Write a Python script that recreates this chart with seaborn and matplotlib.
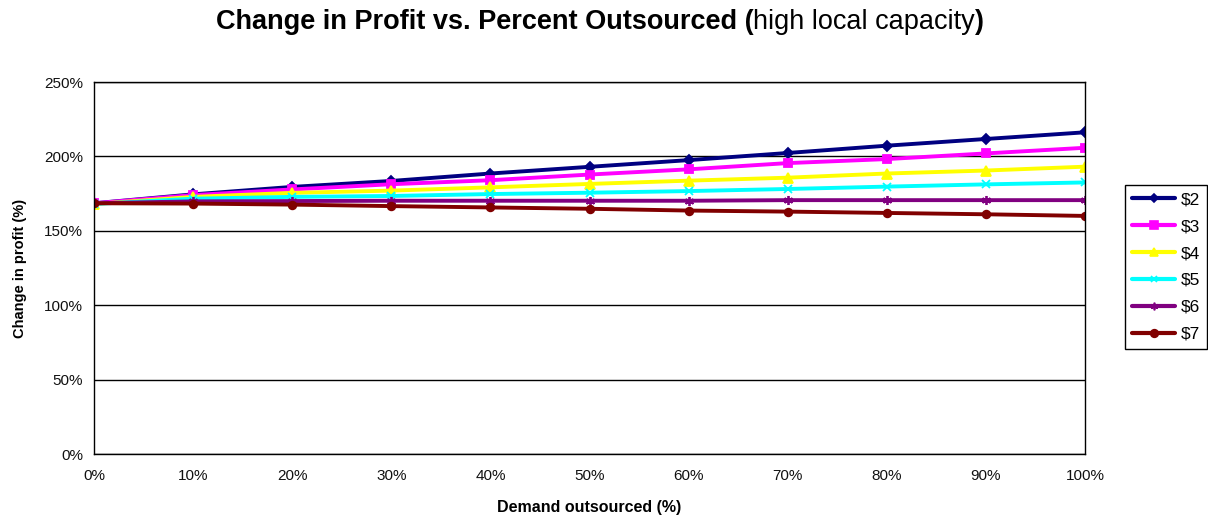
import numpy as np
import pandas as pd
import seaborn as sns
import matplotlib.pyplot as plt
from matplotlib.ticker import PercentFormatter

# Data (change in profit, %)
outsourced = [0, 10, 20, 30, 40, 50, 60, 70, 80, 90, 100]
series_names = ['$2', '$3', '$4', '$5', '$6', '$7']
profit_2 = [168.5, 174.5, 179.5, 183.5, 188.5, 193.0, 197.5, 202.3, 207.2, 211.7, 216.2]
profit_3 = [168.5, 174.0, 177.8, 181.3, 184.0, 187.8, 191.3, 195.5, 198.2, 202.0, 205.8]
profit_4 = [168.0, 172.8, 175.5, 177.0, 179.2, 181.5, 183.7, 185.7, 188.5, 190.5, 193.1]
profit_5 = [168.0, 171.6, 172.8, 173.4, 174.7, 175.6, 176.7, 178.1, 179.7, 181.2, 182.5]
profit_6 = [168.5, 169.8, 170.0, 170.2, 170.2, 170.2, 170.2, 170.6, 170.6, 170.6, 170.6]
profit_7 = [168.5, 168.3, 167.6, 166.6, 165.7, 164.8, 163.6, 162.9, 162.0, 161.1, 160.0]

colors = ['#000080', '#FF00FF', '#FFFF00', '#00FFFF', '#800080', '#800000']
markers = ['D', 's', '^', 'x', (6, 2, 0), 'o']
marker_sizes = [5, 6, 6.5, 5.5, 6.5, 5.5]
legend_marker_sizes = [4.5, 5.5, 6, 4.5, 5.5, 5.5]

all_profits = [profit_2, profit_3, profit_4, profit_5, profit_6, profit_7]
df = pd.concat(
    [pd.DataFrame({'outsourced': outsourced, 'profit': vals, 'price': name})
     for name, vals in zip(series_names, all_profits)],
    ignore_index=True,
)

sns.set_style('white')
plt.rcParams['font.family'] = ['Liberation Sans', 'DejaVu Sans']
plt.rcParams['text.color'] = 'black'
plt.rcParams['axes.labelcolor'] = 'black'

fig = plt.figure(figsize=(12.08, 5.18), dpi=100)
ax = fig.add_axes([94 / 1208, 1 - 454 / 518, (1085 - 94) / 1208, (454 - 82) / 518])

# one call per series so filled and line markers can be mixed
for name, c, m, ms in zip(series_names, colors, markers, marker_sizes):
    sub = df[df['price'] == name]
    sns.lineplot(data=sub, x='outsourced', y='profit', color=c, marker=m,
                 markersize=ms, markeredgecolor=c, markerfacecolor=c,
                 markeredgewidth=1.3, linewidth=2.8, ax=ax, label=name,
                 legend=False)

ax.set_xlim(0, 100)
ax.set_ylim(0, 250)
ax.set_xticks(np.arange(0, 101, 10))
ax.set_yticks(np.arange(0, 251, 50))
ax.xaxis.set_major_formatter(PercentFormatter(decimals=0))
ax.yaxis.set_major_formatter(PercentFormatter(decimals=0))
ax.grid(axis='y', color='black', linewidth=1)
ax.set_axisbelow(True)
for sp in ax.spines.values():
    sp.set_color('black')
    sp.set_linewidth(1)
ax.tick_params(axis='both', direction='out', length=5, width=1, color='black',
               labelsize=11, labelcolor='#111111', pad=3)
ax.tick_params(axis='x', pad=6)

ax.set_xlabel('Demand outsourced (%)', fontsize=11.5, fontweight='bold', labelpad=12)
ax.set_ylabel('Change in profit (%)', fontsize=10.5, fontweight='bold', labelpad=12)

# legend, built from proxy lines with smaller markers
handles = []
for name, c, m, ms in zip(series_names, colors, markers, legend_marker_sizes):
    h, = ax.plot([], [], color=c, marker=m, markersize=ms, markeredgecolor=c,
                 markerfacecolor=c, markeredgewidth=1.2, linewidth=3)
    handles.append(h)
leg = fig.legend(handles=handles, labels=series_names, loc='upper left',
                 bbox_to_anchor=(1125 / 1208, 1 - 185 / 518),
                 frameon=True, fancybox=False, edgecolor='black', framealpha=1,
                 fontsize=12.5, handlelength=2.5, labelspacing=0.68,
                 borderpad=0.4, handletextpad=0.3, borderaxespad=0)
leg.get_frame().set_linewidth(1)

# title with mixed weights
parts = [('Change in Profit vs. Percent Outsourced (', 'bold'),
         ('high local capacity', 'normal'),
         (')', 'bold')]
fig.canvas.draw()
renderer = fig.canvas.get_renderer()
texts = []
for s, w in parts:
    t = fig.text(0, 1 - 22 / 518, s, fontsize=19.5, fontweight=w, va='center',
                 ha='left', color='black')
    texts.append(t)
widths = [t.get_window_extent(renderer).width for t in texts]
total = sum(widths)
x0 = 600 - total / 2
for t, w in zip(texts, widths):
    t.set_x(x0 / 1208)
    x0 += w

fig.savefig('out.png', dpi=100)
